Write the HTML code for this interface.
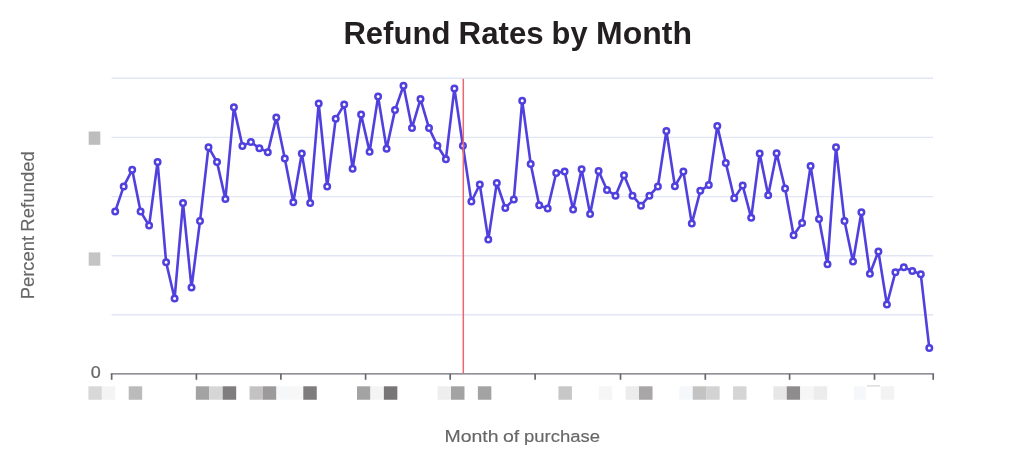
<!DOCTYPE html>
<html lang="en"><head><meta charset="utf-8"><title>Refund Rates by Month</title>
<style>
html,body{margin:0;padding:0;background:#fff;}
body{width:1024px;height:467px;overflow:hidden;font-family:"Liberation Sans",sans-serif;}
svg{display:block;}
.title{font:700 31px "Liberation Sans",sans-serif;fill:#231f20;}
.lab{font:400 17.4px "Liberation Sans",sans-serif;fill:#666;stroke:#666;stroke-width:0.15px;}
.ylab{font:400 19.2px "Liberation Sans",sans-serif;fill:#666;stroke:#666;stroke-width:0.15px;}
.tick{font:400 16px "Liberation Sans",sans-serif;fill:#666;stroke:#666;stroke-width:0.2px;}
</style></head><body>
<svg width="1024" height="467" viewBox="0 0 1024 467">
<rect width="1024" height="467" fill="#fff"/>
<g stroke="#e2e6f4" stroke-width="1.4" fill="none"><line x1="111.5" x2="933" y1="78.3" y2="78.3"/><line x1="111.5" x2="933" y1="137.4" y2="137.4"/><line x1="111.5" x2="933" y1="196.6" y2="196.6"/><line x1="111.5" x2="933" y1="255.7" y2="255.7"/><line x1="111.5" x2="933" y1="314.8" y2="314.8"/></g>
<g><rect x="88.40" y="386.3" width="13.48" height="13.45" fill="#d8d8d8"/><rect x="101.83" y="386.3" width="13.48" height="13.45" fill="#f4f4f4"/><rect x="128.69" y="386.3" width="13.48" height="13.45" fill="#bbbbbb"/><rect x="195.84" y="386.3" width="13.48" height="13.45" fill="#a3a3a3"/><rect x="209.27" y="386.3" width="13.48" height="13.45" fill="#d6d6d6"/><rect x="222.70" y="386.3" width="13.48" height="13.45" fill="#7f7d7d"/><rect x="249.56" y="386.3" width="13.48" height="13.45" fill="#c3c3c3"/><rect x="262.99" y="386.3" width="13.48" height="13.45" fill="#9c9a9a"/><rect x="276.42" y="386.3" width="13.48" height="13.45" fill="#f6f7f9"/><rect x="289.85" y="386.3" width="13.48" height="13.45" fill="#f7f7f7"/><rect x="303.28" y="386.3" width="13.48" height="13.45" fill="#7e7c7c"/><rect x="357.00" y="386.3" width="13.48" height="13.45" fill="#a3a3a3"/><rect x="370.43" y="386.3" width="13.48" height="13.45" fill="#f4f4f4"/><rect x="383.86" y="386.3" width="13.48" height="13.45" fill="#787676"/><rect x="437.58" y="386.3" width="13.48" height="13.45" fill="#eeeeee"/><rect x="451.01" y="386.3" width="13.48" height="13.45" fill="#a3a3a3"/><rect x="477.87" y="386.3" width="13.48" height="13.45" fill="#a3a3a3"/><rect x="558.45" y="386.3" width="13.48" height="13.45" fill="#c7c7c7"/><rect x="598.74" y="386.3" width="13.48" height="13.45" fill="#f6f6f6"/><rect x="625.60" y="386.3" width="13.48" height="13.45" fill="#ececec"/><rect x="639.03" y="386.3" width="13.48" height="13.45" fill="#a8a6a6"/><rect x="679.32" y="386.3" width="13.48" height="13.45" fill="#f6f7fa"/><rect x="692.75" y="386.3" width="13.48" height="13.45" fill="#c3c3c3"/><rect x="706.18" y="386.3" width="13.48" height="13.45" fill="#d3d3d3"/><rect x="733.04" y="386.3" width="13.48" height="13.45" fill="#d5d5d5"/><rect x="773.33" y="386.3" width="13.48" height="13.45" fill="#e7e7e7"/><rect x="786.76" y="386.3" width="13.48" height="13.45" fill="#8e8c8c"/><rect x="800.19" y="386.3" width="13.48" height="13.45" fill="#f6f6f6"/><rect x="813.62" y="386.3" width="13.48" height="13.45" fill="#ececec"/><rect x="853.91" y="386.3" width="11.90" height="13.45" fill="#f6f7fa"/><rect x="880.77" y="386.3" width="13.48" height="13.45" fill="#f3f3f3"/><rect x="88.7" y="131.5" width="11.6" height="13.3" fill="#bdbdbd"/><rect x="88.7" y="252.4" width="11.6" height="13.3" fill="#c4c4c4"/><rect x="867" y="385.3" width="13" height="1.2" fill="#d4d4d4"/></g>
<g stroke="#6c6d78" stroke-width="1.35" fill="none"><line x1="110.7" x2="934" y1="373.8" y2="373.8"/></g>
<g stroke="#666773" stroke-width="1.7" fill="none"><line x1="111.65" x2="111.65" y1="373.8" y2="379.8"/><line x1="196.4" x2="196.4" y1="373.8" y2="379.8"/><line x1="280.9" x2="280.9" y1="373.8" y2="379.8"/><line x1="365.6" x2="365.6" y1="373.8" y2="379.8"/><line x1="450.2" x2="450.2" y1="373.8" y2="379.8"/><line x1="535.1" x2="535.1" y1="373.8" y2="379.8"/><line x1="620.5" x2="620.5" y1="373.8" y2="379.8"/><line x1="705.3" x2="705.3" y1="373.8" y2="379.8"/><line x1="789.6" x2="789.6" y1="373.8" y2="379.8"/><line x1="874.5" x2="874.5" y1="373.8" y2="379.8"/><line x1="933.2" x2="933.2" y1="373.8" y2="379.8"/></g>
<path d="M115.2,211.4 L123.7,186.4 L132.2,169.8 L140.6,211.6 L149.1,225.6 L157.6,162.0 L166.1,262.2 L174.6,298.5 L183.0,202.9 L191.5,287.5 L200.0,221.1 L208.5,147.2 L217.0,162.1 L225.4,199.0 L233.9,107.2 L242.4,145.9 L250.9,142.1 L259.4,148.2 L267.8,152.2 L276.3,117.4 L284.8,158.4 L293.3,202.3 L301.8,153.4 L310.2,203.0 L318.7,103.4 L327.2,186.5 L335.7,118.8 L344.2,104.6 L352.6,168.7 L361.1,114.6 L369.6,151.7 L378.1,96.6 L386.6,148.7 L395.0,110.1 L403.5,85.8 L412.0,127.9 L420.5,99.1 L429.0,128.1 L437.4,145.7 L445.9,159.2 L454.4,88.4 L462.9,145.7 L471.4,201.5 L479.8,184.5 L488.3,239.6 L496.8,183.0 L505.3,208.0 L513.8,199.4 L522.2,100.8 L530.7,163.9 L539.2,205.2 L547.7,208.6 L556.2,173.0 L564.6,171.5 L573.1,209.6 L581.6,169.2 L590.1,214.1 L598.6,171.0 L607.0,190.0 L615.5,195.7 L624.0,175.2 L632.5,195.7 L641.0,205.7 L649.4,195.7 L657.9,186.5 L666.4,130.9 L674.9,186.2 L683.4,171.6 L691.8,223.6 L700.3,190.8 L708.8,185.1 L717.3,125.9 L725.8,162.9 L734.2,198.3 L742.7,185.6 L751.2,217.8 L759.7,153.4 L768.2,195.3 L776.6,153.2 L785.1,188.5 L793.6,235.2 L802.1,223.1 L810.6,165.9 L819.0,219.1 L827.5,264.2 L836.0,147.2 L844.5,221.1 L853.0,261.6 L861.4,212.3 L869.9,273.8 L878.4,251.4 L886.9,304.5 L895.4,272.2 L903.8,267.2 L912.3,270.9 L920.8,274.3 L929.3,348.1" fill="none" stroke="#5040de" stroke-width="2.6" stroke-linejoin="round" stroke-linecap="round"/>
<g fill="#fff" stroke="#5040de" stroke-width="2.5"><circle cx="115.2" cy="211.4" r="2.75"/><circle cx="123.7" cy="186.4" r="2.75"/><circle cx="132.2" cy="169.8" r="2.75"/><circle cx="140.6" cy="211.6" r="2.75"/><circle cx="149.1" cy="225.6" r="2.75"/><circle cx="157.6" cy="162.0" r="2.75"/><circle cx="166.1" cy="262.2" r="2.75"/><circle cx="174.6" cy="298.5" r="2.75"/><circle cx="183.0" cy="202.9" r="2.75"/><circle cx="191.5" cy="287.5" r="2.75"/><circle cx="200.0" cy="221.1" r="2.75"/><circle cx="208.5" cy="147.2" r="2.75"/><circle cx="217.0" cy="162.1" r="2.75"/><circle cx="225.4" cy="199.0" r="2.75"/><circle cx="233.9" cy="107.2" r="2.75"/><circle cx="242.4" cy="145.9" r="2.75"/><circle cx="250.9" cy="142.1" r="2.75"/><circle cx="259.4" cy="148.2" r="2.75"/><circle cx="267.8" cy="152.2" r="2.75"/><circle cx="276.3" cy="117.4" r="2.75"/><circle cx="284.8" cy="158.4" r="2.75"/><circle cx="293.3" cy="202.3" r="2.75"/><circle cx="301.8" cy="153.4" r="2.75"/><circle cx="310.2" cy="203.0" r="2.75"/><circle cx="318.7" cy="103.4" r="2.75"/><circle cx="327.2" cy="186.5" r="2.75"/><circle cx="335.7" cy="118.8" r="2.75"/><circle cx="344.2" cy="104.6" r="2.75"/><circle cx="352.6" cy="168.7" r="2.75"/><circle cx="361.1" cy="114.6" r="2.75"/><circle cx="369.6" cy="151.7" r="2.75"/><circle cx="378.1" cy="96.6" r="2.75"/><circle cx="386.6" cy="148.7" r="2.75"/><circle cx="395.0" cy="110.1" r="2.75"/><circle cx="403.5" cy="85.8" r="2.75"/><circle cx="412.0" cy="127.9" r="2.75"/><circle cx="420.5" cy="99.1" r="2.75"/><circle cx="429.0" cy="128.1" r="2.75"/><circle cx="437.4" cy="145.7" r="2.75"/><circle cx="445.9" cy="159.2" r="2.75"/><circle cx="454.4" cy="88.4" r="2.75"/><circle cx="462.9" cy="145.7" r="2.75"/><circle cx="471.4" cy="201.5" r="2.75"/><circle cx="479.8" cy="184.5" r="2.75"/><circle cx="488.3" cy="239.6" r="2.75"/><circle cx="496.8" cy="183.0" r="2.75"/><circle cx="505.3" cy="208.0" r="2.75"/><circle cx="513.8" cy="199.4" r="2.75"/><circle cx="522.2" cy="100.8" r="2.75"/><circle cx="530.7" cy="163.9" r="2.75"/><circle cx="539.2" cy="205.2" r="2.75"/><circle cx="547.7" cy="208.6" r="2.75"/><circle cx="556.2" cy="173.0" r="2.75"/><circle cx="564.6" cy="171.5" r="2.75"/><circle cx="573.1" cy="209.6" r="2.75"/><circle cx="581.6" cy="169.2" r="2.75"/><circle cx="590.1" cy="214.1" r="2.75"/><circle cx="598.6" cy="171.0" r="2.75"/><circle cx="607.0" cy="190.0" r="2.75"/><circle cx="615.5" cy="195.7" r="2.75"/><circle cx="624.0" cy="175.2" r="2.75"/><circle cx="632.5" cy="195.7" r="2.75"/><circle cx="641.0" cy="205.7" r="2.75"/><circle cx="649.4" cy="195.7" r="2.75"/><circle cx="657.9" cy="186.5" r="2.75"/><circle cx="666.4" cy="130.9" r="2.75"/><circle cx="674.9" cy="186.2" r="2.75"/><circle cx="683.4" cy="171.6" r="2.75"/><circle cx="691.8" cy="223.6" r="2.75"/><circle cx="700.3" cy="190.8" r="2.75"/><circle cx="708.8" cy="185.1" r="2.75"/><circle cx="717.3" cy="125.9" r="2.75"/><circle cx="725.8" cy="162.9" r="2.75"/><circle cx="734.2" cy="198.3" r="2.75"/><circle cx="742.7" cy="185.6" r="2.75"/><circle cx="751.2" cy="217.8" r="2.75"/><circle cx="759.7" cy="153.4" r="2.75"/><circle cx="768.2" cy="195.3" r="2.75"/><circle cx="776.6" cy="153.2" r="2.75"/><circle cx="785.1" cy="188.5" r="2.75"/><circle cx="793.6" cy="235.2" r="2.75"/><circle cx="802.1" cy="223.1" r="2.75"/><circle cx="810.6" cy="165.9" r="2.75"/><circle cx="819.0" cy="219.1" r="2.75"/><circle cx="827.5" cy="264.2" r="2.75"/><circle cx="836.0" cy="147.2" r="2.75"/><circle cx="844.5" cy="221.1" r="2.75"/><circle cx="853.0" cy="261.6" r="2.75"/><circle cx="861.4" cy="212.3" r="2.75"/><circle cx="869.9" cy="273.8" r="2.75"/><circle cx="878.4" cy="251.4" r="2.75"/><circle cx="886.9" cy="304.5" r="2.75"/><circle cx="895.4" cy="272.2" r="2.75"/><circle cx="903.8" cy="267.2" r="2.75"/><circle cx="912.3" cy="270.9" r="2.75"/><circle cx="920.8" cy="274.3" r="2.75"/><circle cx="929.3" cy="348.1" r="2.75"/></g>
<line x1="463.3" x2="463.3" y1="78.8" y2="373.1" stroke="#ea686e" stroke-width="1.5"/>
<text class="title" x="343.4" y="44" textLength="107.0" lengthAdjust="spacingAndGlyphs">Refund</text>
<text class="title" x="458.6" y="44" textLength="85.0" lengthAdjust="spacingAndGlyphs">Rates</text>
<text class="title" x="551.6" y="44" textLength="36.0" lengthAdjust="spacingAndGlyphs">by</text>
<text class="title" x="596.0" y="44" textLength="96.0" lengthAdjust="spacingAndGlyphs">Month</text>
<text class="tick" x="90.8" y="378.2" textLength="10.0" lengthAdjust="spacingAndGlyphs">0</text>
<text class="lab" x="444.5" y="441.7" textLength="54.0" lengthAdjust="spacingAndGlyphs">Month</text>
<text class="lab" x="503.0" y="441.7" textLength="16.3" lengthAdjust="spacingAndGlyphs">of</text>
<text class="lab" x="524.0" y="441.7" textLength="76.0" lengthAdjust="spacingAndGlyphs">purchase</text>
<g transform="translate(34.3,0) rotate(-90)"><text class="ylab" x="-299.3" y="0" textLength="63.4" lengthAdjust="spacingAndGlyphs">Percent</text><text class="ylab" x="-231.7" y="0" textLength="80.6" lengthAdjust="spacingAndGlyphs">Refunded</text></g>
</svg>
</body></html>
